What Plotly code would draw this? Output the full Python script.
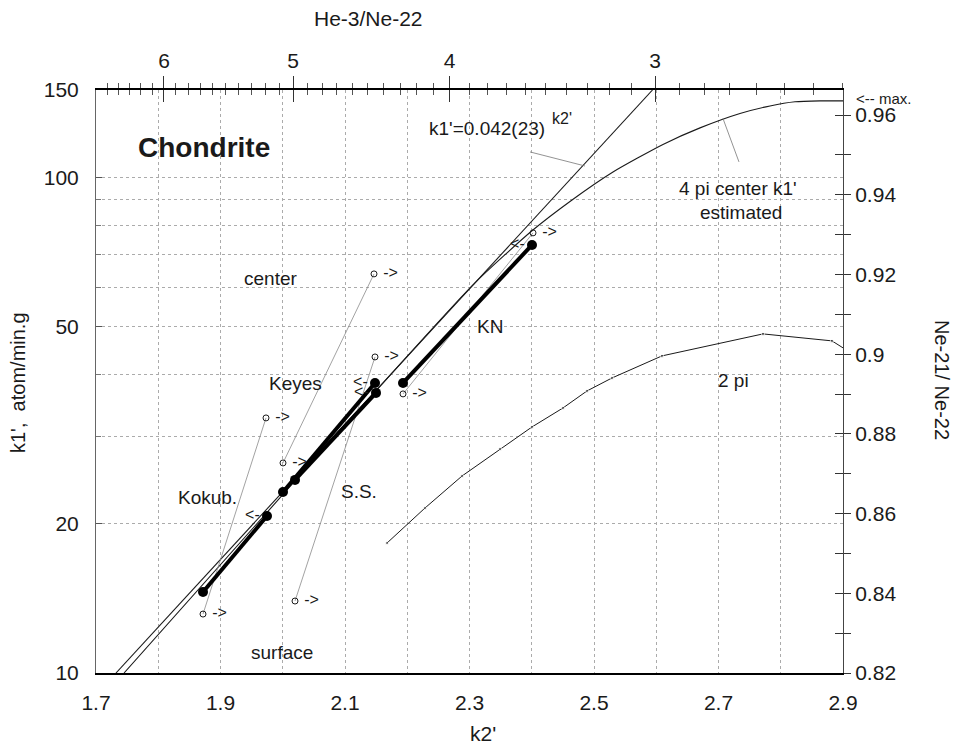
import plotly.graph_objects as go

# ---------------- data ----------------
# k1' = 0.042(23)^k2' fitted line (end points)
fit_k2 = [1.7321, 2.594]
fit_k1 = [10.0, 150.0]

# 4 pi center k1' estimated
pi4_k2 = [1.745, 2.0068, 2.3056, 2.4004, 2.4647, 2.5305, 2.6108, 2.6703, 2.7345, 2.7827, 2.8229, 2.8631, 2.9]
pi4_k1 = [10.0, 23.4, 60.7, 78.0, 90.0, 102.5, 116.5, 125.8, 134.5, 139.3, 142.0, 142.6, 142.6]

# 2 pi curve
pi2_k2 = [2.1675, 2.2285, 2.2880, 2.3490, 2.4004, 2.4502, 2.4888, 2.5289, 2.6092, 2.7715, 2.8823, 2.9]
pi2_k1 = [18.29, 21.52, 24.97, 28.31, 31.36, 34.25, 37.07, 39.37, 43.62, 48.31, 46.77, 45.28]

# meteorites: thick segments (filled circles) and open-circle pairs
met_names = ["Kokub.", "Keyes", "S.S.", "KN"]
seg_k2 = [[1.8719, 1.9747], [2.0004, 2.1482], [2.0197, 2.1498], [2.1932, 2.4004]]
seg_k1 = [[14.57, 20.74], [23.19, 38.47], [24.52, 36.73], [38.47, 73.04]]
open_k2 = [[1.8719, 1.9731], [2.0004, 2.1466], [2.0197, 2.1482], [2.1932, 2.4020]]
open_k1 = [[13.15, 32.7], [26.53, 63.84], [13.97, 43.41], [36.56, 77.24]]

# leader lines for labels
lead_k2 = [[2.3972, 2.4855], [2.7072, 2.7329]]
lead_k1 = [[112.5, 105.4], [131.4, 107.4]]

# bottom axis
k2_ticks = [1.7, 1.9, 2.1, 2.3, 2.5, 2.7, 2.9]
k2_grid = [1.8, 2.0, 2.2, 2.4, 2.6, 2.8]
# left axis
k1_ticks = [10, 20, 50, 100, 150]
k1_grid = [30, 40, 60, 70, 80, 90]
# top axis He-3/Ne-22 (label values and their k2' positions)
he_labels = ["6", "5", "4", "3"]
he_pos = [1.8092, 2.0168, 2.268, 2.5982]
he_minor_pos = [1.7182, 1.7358, 1.7537, 1.7720, 1.7904,
                1.8284, 1.8478, 1.8676, 1.8878, 1.9082, 1.9292, 1.9504, 1.9721, 1.9943,
                2.0398, 2.0632, 2.0871, 2.1117, 2.1366, 2.1623, 2.1884, 2.2152, 2.2427,
                2.2995, 2.3291, 2.3596, 2.3906, 2.4227, 2.4557, 2.4896, 2.5247, 2.5609,
                2.6367, 2.6767, 2.7180, 2.7610, 2.8057, 2.8521, 2.899]
# right axis Ne-21/Ne-22
ne_ticks = [0.82, 0.84, 0.86, 0.88, 0.90, 0.92, 0.94, 0.96]
ne_labels = ["0.82", "0.84", "0.86", "0.88", "0.9", "0.92", "0.94", "0.96"]
ne_minor = [0.83, 0.85, 0.87, 0.89, 0.91, 0.93, 0.95]

FONT = "Liberation Sans, Arial, Helvetica, sans-serif"
INK = "#1a1a1a"
GRID = "#ababab"

fig = go.Figure()

# fitted line
fig.add_trace(go.Scatter(x=fit_k2, y=fit_k1, mode="lines",
                         line=dict(color=INK, width=1.1), hoverinfo="skip"))
# 4 pi curve
fig.add_trace(go.Scatter(x=pi4_k2, y=pi4_k1, mode="lines",
                         line=dict(color=INK, width=1.1, shape="spline", smoothing=0.6),
                         hoverinfo="skip"))
# 2 pi curve
fig.add_trace(go.Scatter(x=pi2_k2, y=pi2_k1, mode="lines+markers",
                         line=dict(color=INK, width=1),
                         marker=dict(size=[3] * (len(pi2_k2) - 1) + [0], color=INK),
                         hoverinfo="skip"))
# leader lines
for lx, ly in zip(lead_k2, lead_k1):
    fig.add_trace(go.Scatter(x=lx, y=ly, mode="lines",
                             line=dict(color="#777", width=0.8), hoverinfo="skip"))
# open circle pairs
for ox, oy in zip(open_k2, open_k1):
    fig.add_trace(go.Scatter(x=ox, y=oy, mode="lines+markers+text",
                             line=dict(color="#8a8a8a", width=0.8),
                             marker=dict(symbol="circle-open", size=6, color=INK,
                                         line=dict(width=1, color=INK)),
                             text=[" ->", " ->"], textposition="middle right",
                             textfont=dict(family=FONT, size=16, color=INK),
                             hoverinfo="skip"))
# thick segments
for sx, sy in zip(seg_k2, seg_k1):
    fig.add_trace(go.Scatter(x=sx, y=sy, mode="lines+markers+text",
                             line=dict(color="black", width=4),
                             marker=dict(size=10, color="black"),
                             text=["", "<-"], textposition="middle left",
                             textfont=dict(family=FONT, size=16, color=INK),
                             hoverinfo="skip"))

# dummy traces for extra axes
fig.add_trace(go.Scatter(x=[None], y=[None], xaxis="x2", yaxis="y", hoverinfo="skip"))
fig.add_trace(go.Scatter(x=[None], y=[None], xaxis="x3", yaxis="y", hoverinfo="skip"))
fig.add_trace(go.Scatter(x=[None], y=[None], xaxis="x", yaxis="y2", hoverinfo="skip"))
fig.add_trace(go.Scatter(x=[None], y=[None], xaxis="x", yaxis="y3", hoverinfo="skip"))

# plot-area edges in page pixels (page body has an 8px margin)
L, R, T, B = 96, 843, 90, 673
OFF = 8
W, H = 945, 736


def px(x, y):
    return (x - L) / (R - L), (B - y) / (B - T)


annots = []


def add_text(text, x, y, size=19, angle=0, xanchor="center", bold=False):
    xp, yp = px(x, y)
    if bold:
        text = "<b>" + text + "</b>"
    annots.append(dict(text=text, x=xp, y=yp, xref="paper", yref="paper",
                       xanchor=xanchor, yanchor="middle", showarrow=False,
                       textangle=angle,
                       font=dict(family=FONT, size=size, color=INK)))


add_text("Chondrite", 204, 148, size=28, bold=True)
add_text("k1'=0.042(23)", 487, 129, size=19)
add_text("k2'", 562, 119, size=16)
add_text("4 pi center k1'", 738, 188, size=19)
add_text("estimated", 741, 212, size=19)
add_text("center", 270, 278, size=19)
add_text("Keyes", 295, 383, size=19)
add_text("KN", 490, 326, size=19)
add_text("Kokub.", 207, 497, size=19)
add_text("S.S.", 359, 491, size=19)
add_text("surface", 282, 652, size=19)
add_text("2 pi", 733, 380, size=19)
add_text("<-- max.", 854, 98, size=15, xanchor="left")
add_text("He-3/Ne-22", 368, 18, size=21)
add_text("k2'", 483, 733, size=21)
add_text("k1',  atom/min.g", 18, 383, size=20, angle=-90)
add_text("Ne-21/ Ne-22", 942, 380, size=20, angle=90)

tickfont = dict(family=FONT, size=21, color=INK)

fig.update_layout(
    width=W, height=H,
    margin=dict(l=L - OFF, r=W - (R - OFF), t=T - OFF, b=H - (B - OFF), pad=0,
                autoexpand=False),
    paper_bgcolor="white", plot_bgcolor="white",
    showlegend=False,
    annotations=annots,
    xaxis=dict(range=[1.7, 2.9], tickvals=k2_ticks,
               ticktext=[f"{v:.1f}" for v in k2_ticks],
               tickfont=tickfont, ticks="", ticklabelstandoff=10,
               showgrid=True, gridcolor=GRID, griddash="dot", gridwidth=1,
               minor=dict(tickvals=k2_grid, showgrid=True, gridcolor=GRID,
                          griddash="dot", gridwidth=1, ticks=""),
               showline=True, linecolor="black", linewidth=2, zeroline=False),
    xaxis2=dict(range=[1.7, 2.9], overlaying="x", side="top", anchor="y",
                tickvals=he_pos, ticktext=he_labels, tickfont=tickfont,
                ticks="outside", ticklen=12, tickcolor="#333", tickwidth=1,
                minor=dict(tickvals=he_minor_pos, ticks="outside", ticklen=5,
                           tickcolor="#555", tickwidth=1, showgrid=False),
                showgrid=False, showline=True, linecolor="black", linewidth=2,
                zeroline=False),
    xaxis3=dict(range=[1.7, 2.9], overlaying="x", side="top", anchor="y",
                tickvals=he_pos, showticklabels=False,
                ticks="inside", ticklen=12, tickcolor="#333", tickwidth=1,
                minor=dict(tickvals=he_minor_pos, ticks="inside", ticklen=5,
                           tickcolor="#555", tickwidth=1, showgrid=False),
                showgrid=False, showline=False, zeroline=False),
    yaxis=dict(type="log", range=[1, 2.176091259], tickvals=k1_ticks,
               ticktext=[str(v) for v in k1_ticks], tickfont=tickfont,
               ticks="inside", ticklen=6, tickcolor="#555", ticklabelstandoff=12,
               showgrid=True, gridcolor=GRID, griddash="dot", gridwidth=1,
               minor=dict(tickvals=k1_grid, showgrid=True, gridcolor=GRID,
                          griddash="dot", gridwidth=1, ticks="inside", ticklen=5,
                          tickcolor="#777"),
               showline=True, linecolor="#666", linewidth=1, zeroline=False),
    yaxis2=dict(range=[0.82, 0.9663], overlaying="y", side="right", anchor="x",
                tickvals=ne_ticks, ticktext=ne_labels, tickfont=tickfont,
                ticks="outside", ticklen=7, tickcolor="#333", tickwidth=1,
                minor=dict(tickvals=ne_minor, ticks="outside", ticklen=7,
                           tickcolor="#333", tickwidth=1, showgrid=False),
                showgrid=False, showline=True, linecolor="#444", linewidth=1,
                zeroline=False),
    yaxis3=dict(range=[0.82, 0.9663], overlaying="y", side="right", anchor="x",
                tickvals=ne_ticks, showticklabels=False,
                ticks="inside", ticklen=8, tickcolor="#333", tickwidth=1,
                minor=dict(tickvals=ne_minor, ticks="inside", ticklen=8,
                           tickcolor="#333", tickwidth=1, showgrid=False),
                showgrid=False, showline=False, zeroline=False),
)

fig.write_html("out.html")
